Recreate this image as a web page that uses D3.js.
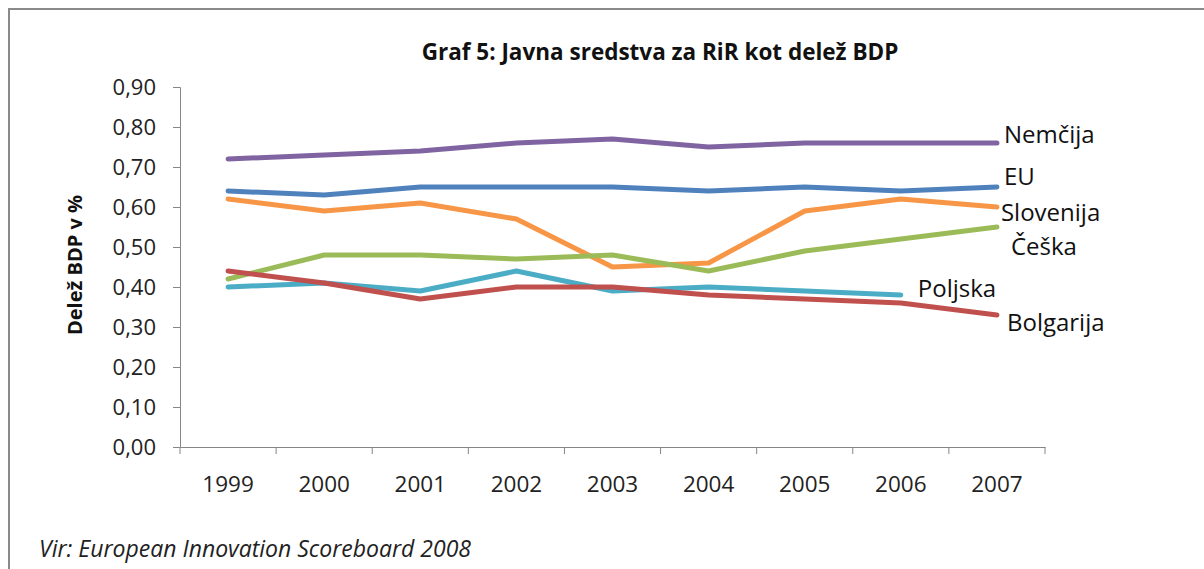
<!DOCTYPE html>
<html><head><meta charset="utf-8">
<script src="https://cdn.jsdelivr.net/npm/d3@7"></script>
<style>
body{margin:0;background:#fff;}
svg{display:block;font-family:"Open Sans",sans-serif;}
</style></head>
<body><svg id="c" width="1204" height="569"></svg>
<script>
const years = ["1999","2000","2001","2002","2003","2004","2005","2006","2007"];
const yTicks = [0,0.1,0.2,0.3,0.4,0.5,0.6,0.7,0.8,0.9];
const nemcija   = [0.72,0.73,0.74,0.76,0.77,0.75,0.76,0.76,0.76];
const eu        = [0.64,0.63,0.65,0.65,0.65,0.64,0.65,0.64,0.65];
const slovenija = [0.62,0.59,0.61,0.57,0.45,0.46,0.59,0.62,0.60];
const ceska     = [0.42,0.48,0.48,0.47,0.48,0.44,0.49,0.52,0.55];
const poljska   = [0.40,0.41,0.39,0.44,0.39,0.40,0.39,0.38,null];
const bolgarija = [0.44,0.41,0.37,0.40,0.40,0.38,0.37,0.36,0.33];
const seriesNames = ["Nemčija","EU","Slovenija","Češka","Poljska","Bolgarija"];
const seriesValues = [nemcija,eu,slovenija,ceska,poljska,bolgarija];
const colors = ["#8064A2","#4F81BD","#F79646","#9BBB59","#4BACC6","#C0504D"];
// label offsets relative to last point (dx, dy)
const labelOffsets = [[7,-9],[7,-11],[4,5],[14,19],[17,-7],[10,7]];

const svg = d3.select("#c");
// outer frame
svg.append("rect").attr("x",9).attr("y",9).attr("width",1300).attr("height",700)
  .attr("fill","none").attr("stroke","#8a8a8a").attr("stroke-width",2);

const L=180,R=1045,T=87,B=447;
const x = d3.scaleBand().domain(years).range([L,R]);
const y = d3.scaleLinear().domain([0,0.9]).range([B,T]);
const fmt = d => d3.format(".2f")(d).replace(".",",");

// y axis
const ya = svg.append("g").attr("transform",`translate(${L},0)`)
  .call(d3.axisLeft(y).tickValues(yTicks).tickFormat(fmt).tickSize(7).tickPadding(17));
ya.selectAll("path,line").attr("stroke","#868686");
ya.selectAll("text").attr("font-size",22).attr("fill","#222").attr("font-family","Open Sans");

// x axis
const xa = svg.append("g").attr("transform",`translate(0,${B})`)
  .call(d3.axisBottom(x).tickSize(0).tickPadding(29));
xa.select("path").attr("stroke","#868686");
xa.selectAll("text").attr("font-size",22.5).attr("fill","#222").attr("font-family","Open Sans");
// boundary tick marks
const bounds = years.map(d=>x(d)).concat([x(years[years.length-1])+x.bandwidth()]);
svg.append("g").selectAll("line").data(bounds).join("line")
  .attr("x1",d=>d).attr("x2",d=>d).attr("y1",B).attr("y2",B+7).attr("stroke","#868686");

const line = d3.line().defined(d=>d[1]!=null)
  .x(d=>x(d[0])+x.bandwidth()/2).y(d=>y(d[1]));

seriesValues.forEach((vals,i)=>{
  const pts = years.map((yr,j)=>[yr,vals[j]]);
  svg.append("path").datum(pts).attr("d",line).attr("fill","none")
    .attr("stroke",colors[i]).attr("stroke-width",5).attr("stroke-linejoin","round").attr("stroke-linecap","round");
  const last = pts.filter(p=>p[1]!=null).pop();
  svg.append("text").attr("x",x(last[0])+x.bandwidth()/2+labelOffsets[i][0])
    .attr("y",y(last[1])+labelOffsets[i][1]).attr("dy","0.36em")
    .attr("font-size",24).attr("fill","#111").text(seriesNames[i]);
});

// title
svg.append("text").attr("x",660).attr("y",60).attr("text-anchor","middle")
  .attr("font-size",22.5).attr("font-weight","bold").attr("fill","#111")
  .text("Graf 5: Javna sredstva za RiR kot delež BDP");
// y label
svg.append("text").attr("transform","translate(82,265) rotate(-90)").attr("text-anchor","middle")
  .attr("font-size",20).attr("font-weight","bold").attr("fill","#111").text("Delež BDP v %");
// source
svg.append("text").attr("x",39).attr("y",557).attr("font-size",23).attr("font-style","italic")
  .attr("fill","#222").text("Vir: European Innovation Scoreboard 2008");
</script></body></html>
